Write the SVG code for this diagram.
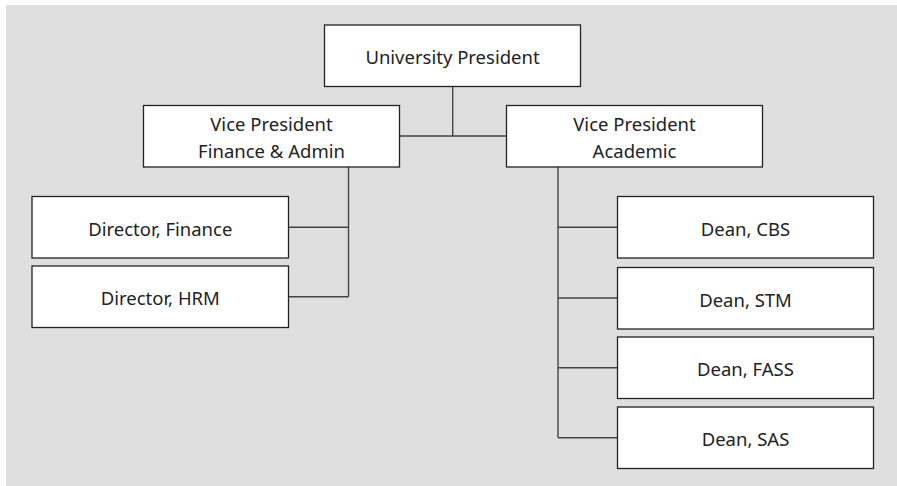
<svg xmlns="http://www.w3.org/2000/svg" width="897" height="486" viewBox="0 0 897 486">
<style>
.box{fill:#ffffff;stroke:#222222;stroke-width:1.3}
.lbl{font-family:"Noto Sans","Liberation Sans",sans-serif;font-size:18.5px;fill:#222222;text-anchor:middle}
.conn{fill:none;stroke:#444444;stroke-width:1.4}
</style>
<rect x="6" y="5" width="891" height="481" fill="#dfdfdf"/>
<g id="connectors" class="conn">
<path d="M452.7 86.5 V136 M399.5 136 H506.5"/>
<path d="M348.5 167 V296.7 M288.5 227.3 H348.5 M288.5 296.7 H348.5"/>
<path d="M558 167 V437.7 M558 227.3 H617.5 M558 298 H617.5 M558 367.7 H617.5 M558 437.7 H617.5"/>
</g>
<g id="president"><rect class="box" x="324.5" y="25" width="256" height="61.5"/><text class="lbl" x="452.5" y="64.3">University President</text></g>
<g id="vp-finance"><rect class="box" x="143.5" y="105.5" width="256" height="61.5"/><text class="lbl" x="271.5" y="131">Vice President</text><text class="lbl" x="271.5" y="158.3">Finance &amp; Admin</text></g>
<g id="vp-academic"><rect class="box" x="506.5" y="105.5" width="256" height="61.5"/><text class="lbl" x="634.5" y="131">Vice President</text><text class="lbl" x="634.5" y="158.3">Academic</text></g>
<g id="dir-finance"><rect class="box" x="32" y="196.5" width="256.5" height="61.5"/><text class="lbl" x="160.3" y="235.6">Director, Finance</text></g>
<g id="dir-hrm"><rect class="box" x="32" y="266" width="256.5" height="61.5"/><text class="lbl" x="160.3" y="305.3">Director, HRM</text></g>
<g id="dean-cbs"><rect class="box" x="617.5" y="196.5" width="256" height="61.5"/><text class="lbl" x="745.5" y="235.6">Dean, CBS</text></g>
<g id="dean-stm"><rect class="box" x="617.5" y="267.5" width="256" height="61.5"/><text class="lbl" x="745.5" y="306.8">Dean, STM</text></g>
<g id="dean-fass"><rect class="box" x="617.5" y="337" width="256" height="61.5"/><text class="lbl" x="745.5" y="376.3">Dean, FASS</text></g>
<g id="dean-sas"><rect class="box" x="617.5" y="407" width="256" height="61.5"/><text class="lbl" x="745.5" y="446.3">Dean, SAS</text></g>
</svg>
